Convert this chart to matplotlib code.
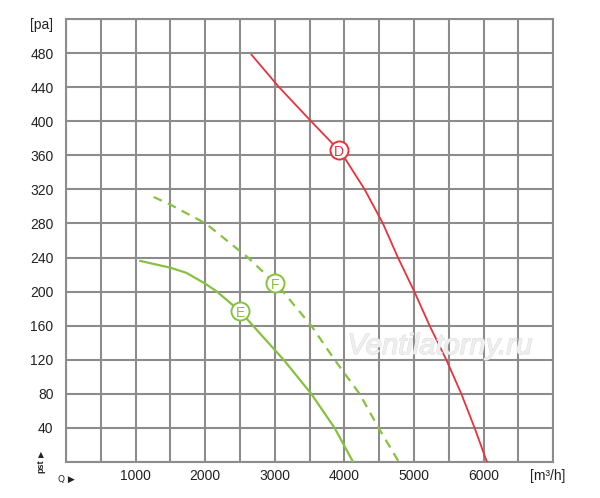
import numpy as np
import matplotlib.pyplot as plt
import matplotlib.patheffects as pe

# Fan curves: airflow Q [m3/h], static pressure [Pa]
q_d = [2665, 3060, 3520, 3920, 3979, 4290, 4553, 4769, 5005, 5224, 5464, 5680, 5871, 6048]
p_d = [478, 440, 400, 366, 360, 320, 280, 240, 200, 160, 120, 80, 40, 0]

q_e = [1067, 1500, 1730, 2006, 2168, 2500, 2686, 3127, 3524, 3859, 4125]
p_e = [236, 228, 222, 209, 200, 177, 160, 120, 80, 40, 0]

q_f = [1260, 1500, 2006, 2614, 3000, 3117, 3524, 3859, 4218, 4491, 4783]
p_f = [311, 302, 280, 240, 210, 200, 160, 120, 80, 40, 0]

# marker positions (label, Q, p)
markers = [("D", 3920, 366), ("E", 2500, 177), ("F", 3000, 210)]

x_labels = [1000, 2000, 3000, 4000, 5000, 6000]
y_labels = list(range(40, 481, 40))

red = "#e8323c"
green = "#86c13f"
gridc = "#8c8c8c"

plt.rcParams['font.family'] = ['Liberation Sans', 'DejaVu Sans']

fig = plt.figure(figsize=(6, 4.98), dpi=100)
ax = fig.add_axes([0.11, 0.0723, 0.812, 0.8897])

ax.plot(q_d, p_d, color=red, lw=1.3, zorder=3, solid_joinstyle='round')
ax.plot(q_e, p_e, color=green, lw=1.6, zorder=3, solid_joinstyle='round')
ax.plot(q_f, p_f, color=green, lw=1.6, ls=(0, (4, 3)), zorder=3)

for name, q, p in markers:
    c = red if name == "D" else green
    ax.plot(q, p, 'o', ms=13, mfc='white', mec=c, mew=1.4, zorder=4)
    ax.text(q, p, name, color=c, ha='center', va='center_baseline', fontsize=10, zorder=5)

ax.set_xlim(0, 7000)
ax.set_ylim(0, 520)
ax.set_xticks(np.arange(0, 7001, 500))
ax.set_xticklabels([str(v) if v in x_labels else "" for v in np.arange(0, 7001, 500)])
ax.set_yticks(np.arange(0, 521, 40))
ax.set_yticklabels([str(v) if v in y_labels else "" for v in np.arange(0, 521, 40)])
ax.tick_params(length=0, labelsize=10, colors='#222222')
ax.tick_params(axis='y', pad=9)
ax.tick_params(axis='x', pad=5)
ax.grid(True, color=gridc, lw=1.5)
ax.set_axisbelow(True)
for s in ax.spines.values():
    s.set_color(gridc)
    s.set_linewidth(1.5)

# axis units and small arrows
fig.text(53 / 600, 1 - 25 / 498, "[pa]", ha='right', va='center', fontsize=10, color='#222222')
fig.text(548 / 600, 1 - 476 / 498, "[m\u00b3/h]", ha='center', va='center', fontsize=10, color='#222222')
fig.text(66 / 600, 1 - 479 / 498, "Q \u25b6", ha='center', va='center', fontsize=6.5, color='#222222',
         family=['DejaVu Sans'])
fig.text(41 / 600, 1 - 466 / 498, "pst", ha='center', va='center', fontsize=6.5, rotation=90,
         color='#222222', weight='bold')
fig.text(41 / 600, 1 - 455 / 498, "\u25b2", ha='center', va='center', fontsize=5.5, color='#222222',
         family=['DejaVu Sans'])

# watermark
fig.text(440 / 600, 1 - 346 / 498, "Ventilatorny.ru", ha='center', va='center', fontsize=21,
         style='italic', color='#eeeeee', zorder=2,
         path_effects=[pe.withStroke(linewidth=0.8, foreground='#dadada'), pe.Normal()])

fig.savefig("out.png", dpi=100)
